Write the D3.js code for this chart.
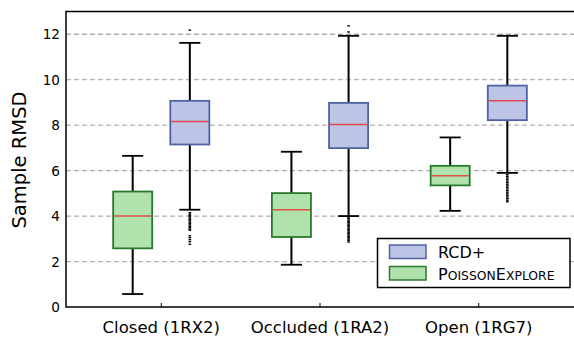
<!DOCTYPE html>
<html><head><meta charset="utf-8">
<script src="https://cdn.jsdelivr.net/npm/d3@7"></script>
<style>body{margin:0;background:#fff}svg{display:block;font-family:"DejaVu Sans",sans-serif}</style>
</head><body><svg id="c" width="574" height="337"></svg>
<script>
const categories = ["Closed (1RX2)", "Occluded (1RA2)", "Open (1RG7)"];
const series = ["RCD+", "PoissonExplore"];
const yTicks = [0, 2, 4, 6, 8, 10, 12];
// [lowWhisker, q1, median, q3, highWhisker] per category
const rcdStats = [
  [4.28, 7.15, 8.16, 9.07, 11.62],
  [4.00, 6.99, 8.03, 8.98, 11.93],
  [5.90, 8.22, 9.07, 9.74, 11.93]
];
const poissonStats = [
  [0.57, 2.58, 4.00, 5.08, 6.65],
  [1.86, 3.08, 4.28, 5.01, 6.83],
  [4.23, 5.35, 5.77, 6.21, 7.46]
];
const rcdOutliers = [
  [12.18, 4.15, 4.09, 4.03, 3.97, 3.91, 3.85, 3.79, 3.73, 3.67, 3.61, 3.55, 3.49, 3.43, 3.38, 3.13, 3.05, 2.96, 2.87, 2.76],
  [12.37, 12.1, 3.95, 3.89, 3.83, 3.77, 3.71, 3.65, 3.59, 3.53, 3.47, 3.41, 3.35, 3.29, 3.23, 3.17, 3.11, 3.05, 2.99, 2.93, 2.86],
  [5.82, 5.75, 5.68, 5.61, 5.54, 5.47, 5.40, 5.33, 5.26, 5.19, 5.12, 5.05, 4.98, 4.91, 4.84, 4.77, 4.70, 4.63]
];
const poissonOutliers = [[], [], []];

const svg = d3.select("#c");
const L = 66, R = 574, T = 11.5, B = 307;
const x = d3.scaleLinear().domain([0.4, 3.6]).range([L, R]);
const y = d3.scaleLinear().domain([0, 13]).range([B, T]);
const off = 0.18, bw = 0.246;

// grid
svg.append("g").selectAll("line").data(yTicks.filter(t => t > 0)).join("line")
  .attr("x1", L).attr("x2", R).attr("y1", d => y(d)).attr("y2", d => y(d))
  .attr("stroke", "#b0b0b0").attr("stroke-width", 1.3).attr("stroke-dasharray", "5,3");

const styles = {
  "RCD+": {fill: "#bdc4e6", stroke: "#4d63a3", stats: rcdStats, out: rcdOutliers, dx: off},
  "PoissonExplore": {fill: "#b0e2ae", stroke: "#2b7a2b", stats: poissonStats, out: poissonOutliers, dx: -off}
};

series.forEach(s => {
  const st = styles[s];
  const g = svg.append("g");
  st.stats.forEach((v, i) => {
    const cx = x(i + 1 + st.dx);
    const w = x(bw) - x(0);
    // whiskers
    g.append("line").attr("x1", cx).attr("x2", cx).attr("y1", y(v[0])).attr("y2", y(v[1])).attr("stroke", "#000").attr("stroke-width", 2);
    g.append("line").attr("x1", cx).attr("x2", cx).attr("y1", y(v[3])).attr("y2", y(v[4])).attr("stroke", "#000").attr("stroke-width", 2);
    [v[0], v[4]].forEach(c => g.append("line").attr("x1", cx - w * 0.27).attr("x2", cx + w * 0.27)
      .attr("y1", y(c)).attr("y2", y(c)).attr("stroke", "#000").attr("stroke-width", 1.8));
    g.append("rect").attr("x", cx - w / 2).attr("width", w).attr("y", y(v[3])).attr("height", y(v[1]) - y(v[3]))
      .attr("fill", st.fill).attr("stroke", st.stroke).attr("stroke-width", 1.8);
    g.append("line").attr("x1", cx - w / 2 + 1).attr("x2", cx + w / 2 - 1).attr("y1", y(v[2])).attr("y2", y(v[2]))
      .attr("stroke", "#f01818").attr("stroke-opacity", 0.72).attr("stroke-width", 1.5);
    st.out[i].forEach(o => g.append("rect").attr("x", cx - 1.3).attr("y", y(o) - 0.7).attr("width", 2.6).attr("height", 1.4).attr("fill", "#000"));
  });
});

// frame (top, left, bottom)
svg.append("path").attr("d", `M${R},${T}H${L}V${B}H${R}`).attr("fill", "none").attr("stroke", "#000").attr("stroke-width", 1.5);
// x ticks inward
svg.append("g").selectAll("line").data([1, 2, 3]).join("line")
  .attr("x1", d => x(d)).attr("x2", d => x(d)).attr("y1", B).attr("y2", B - 4).attr("stroke", "#000").attr("stroke-width", 1);
// y tick labels
svg.append("g").selectAll("text").data(yTicks).join("text")
  .attr("x", 60).attr("y", d => y(d) + 5).attr("text-anchor", "end").attr("font-size", 13.6).attr("fill", "#000").text(d => d);
// x labels
svg.append("g").selectAll("text").data(categories).join("text")
  .attr("x", (d, i) => x(i + 1)).attr("y", 333).attr("text-anchor", "middle").attr("font-size", 16.5).attr("fill", "#000").text(d => d);
// y label
svg.append("text").attr("transform", "translate(26,160) rotate(-90)").attr("text-anchor", "middle")
  .attr("font-size", 19.5).attr("fill", "#000").text("Sample RMSD");

// legend
const lg = svg.append("g");
lg.append("rect").attr("x", 377.5).attr("y", 238.5).attr("width", 192.5).attr("height", 49).attr("fill", "#fff").attr("stroke", "#000").attr("stroke-width", 1.5);
series.forEach((s, i) => {
  const st = styles[s];
  lg.append("rect").attr("x", 389.5).attr("y", 245 + i * 21.5).attr("width", 36.5).attr("height", 13.5)
    .attr("fill", st.fill).attr("stroke", st.stroke).attr("stroke-width", 1.5);
});
lg.append("text").attr("x", 438).attr("y", 257.5).attr("font-size", 16).text(series[0]);
const t2 = lg.append("text").attr("x", 438).attr("y", 279.5).attr("font-size", 16);
// small caps rendering of "PoissonExplore"
[["P", 16], ["OISSON", 12.4], ["E", 16], ["XPLORE", 12.4]].forEach(([s, f]) => t2.append("tspan").attr("font-size", f).text(s));
</script></body></html>
